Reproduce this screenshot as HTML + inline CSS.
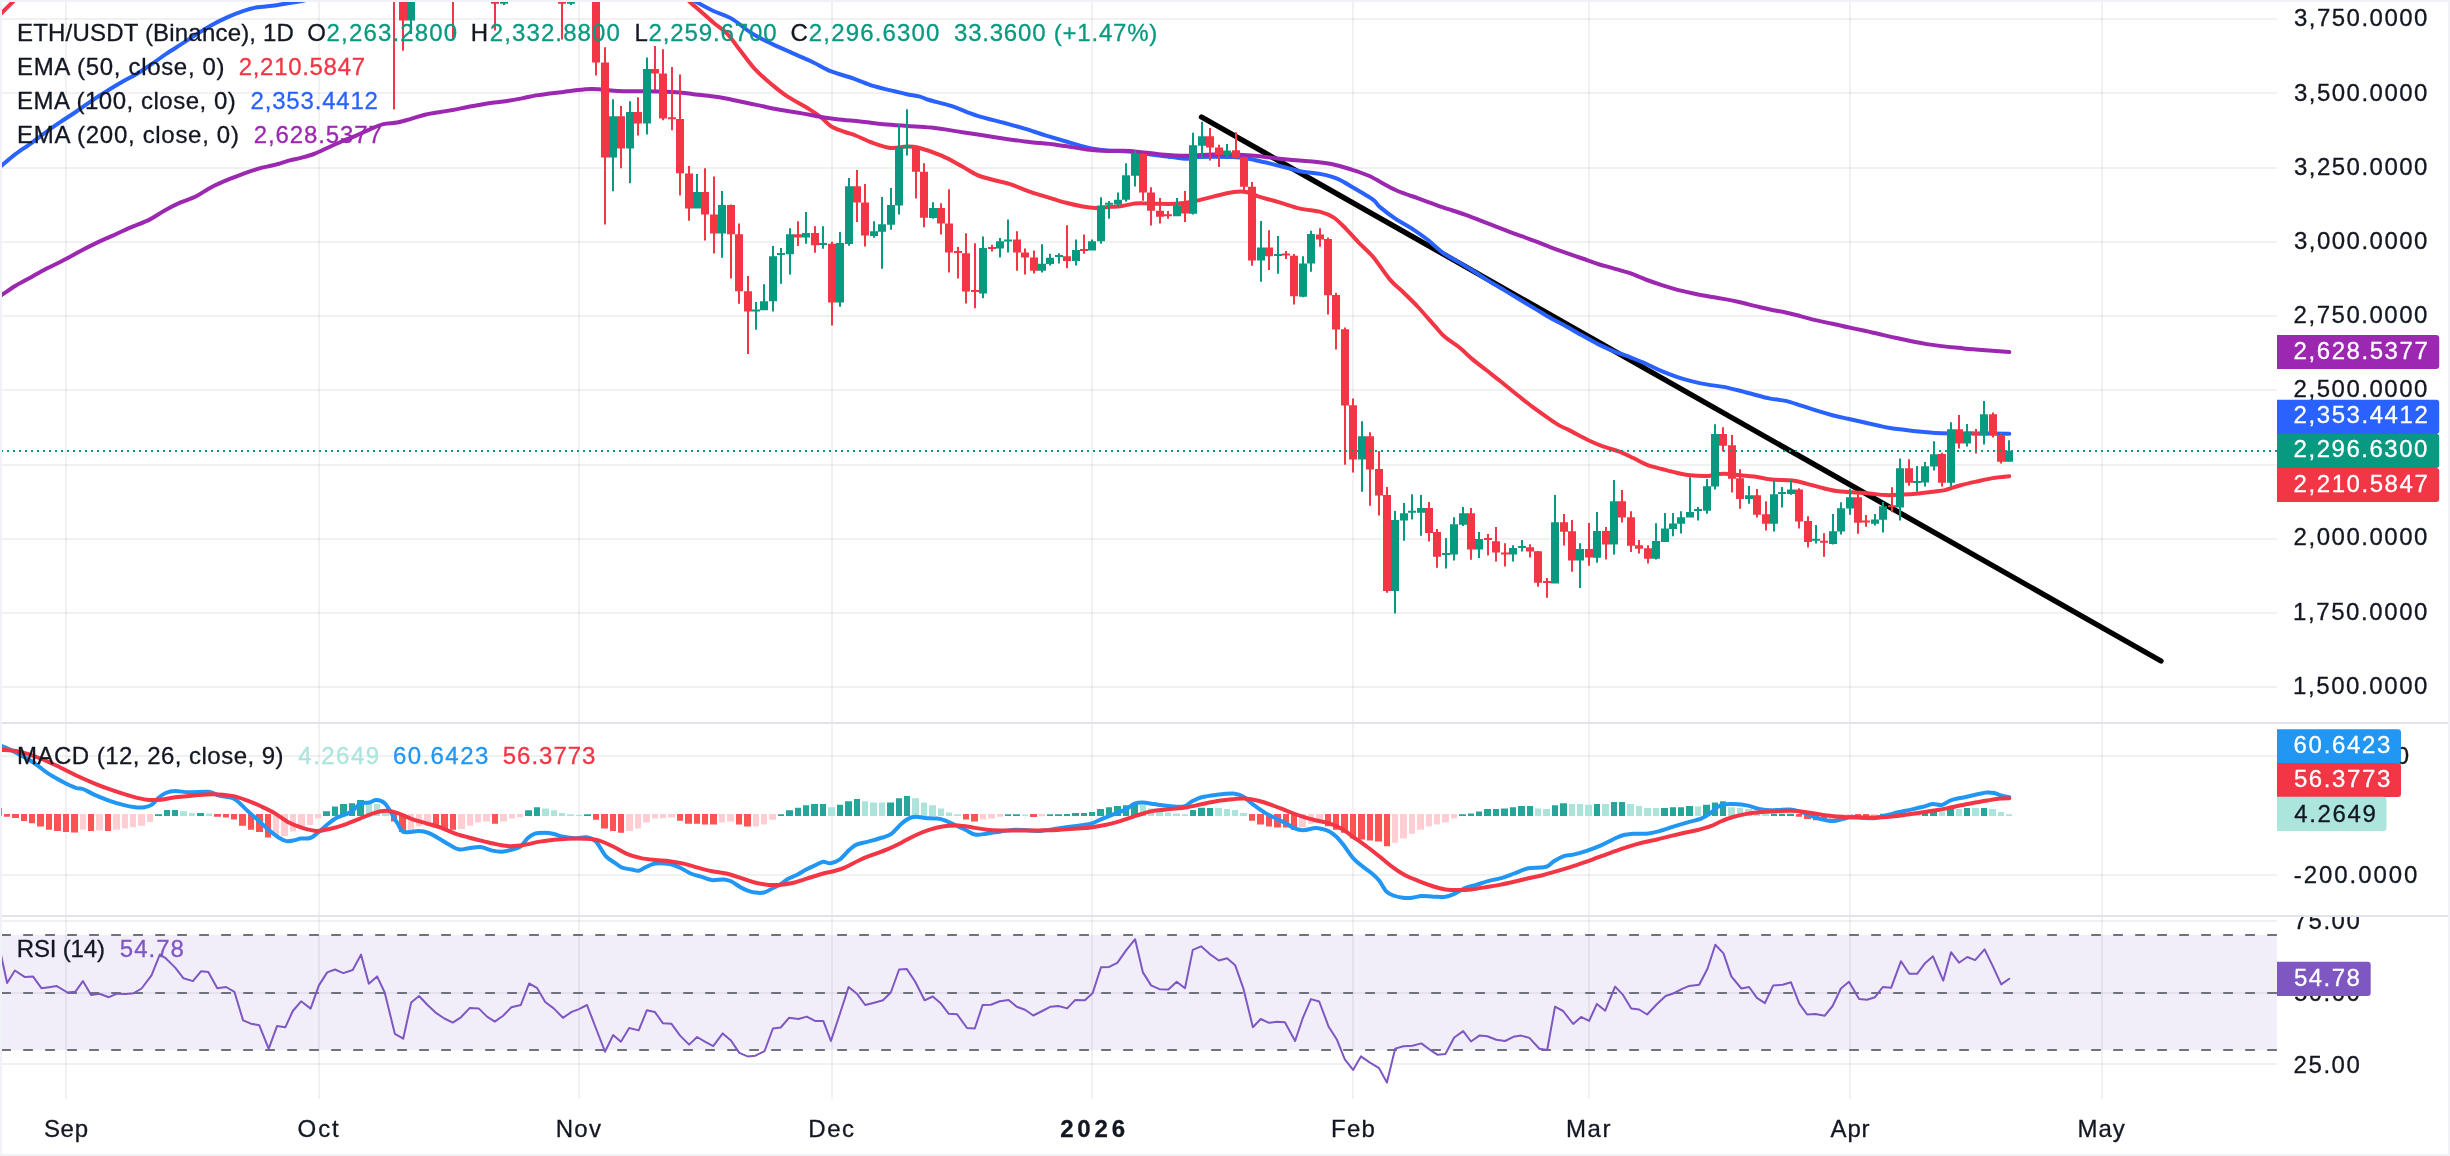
<!DOCTYPE html><html><head><meta charset="utf-8"><title>ETH/USDT</title><style>html,body{margin:0;padding:0;background:#fff}body{width:2450px;height:1156px;overflow:hidden;font-family:"Liberation Sans",sans-serif}</style></head><body><svg width="2450" height="1156" viewBox="0 0 2450 1156" style="display:block;will-change:transform">
<rect width="2450" height="1156" fill="#fff"/>
<defs>
<clipPath id="cm"><rect x="0" y="0" width="2277" height="722"/></clipPath>
<clipPath id="cd"><rect x="0" y="724" width="2277" height="191"/></clipPath>
<clipPath id="cr"><rect x="0" y="917" width="2277" height="183"/></clipPath>
<clipPath id="ca"><rect x="2277" y="917" width="173" height="183"/></clipPath>
</defs>
<rect x="0" y="935" width="2277" height="115" fill="#F2EEF9"/>
<path d="M0,19H2277M0,93H2277M0,168H2277M0,242H2277M0,316H2277M0,390H2277M0,465H2277M0,539H2277M0,613H2277M0,687H2277M0,756H2277M0,875H2277M0,921H2277M0,993H2277M0,1064H2277" stroke="#2A2E39" stroke-opacity="0.065" stroke-width="2" fill="none"/>
<path d="M66,0V1099M319,0V1099M579,0V1099M832,0V1099M1092,0V1099M1353,0V1099M1589,0V1099M1850,0V1099M2102,0V1099" stroke="#2A2E39" stroke-opacity="0.065" stroke-width="2" fill="none"/>
<g clip-path="url(#cm)">
<line x1="1201.5" y1="117" x2="2161" y2="661" stroke="#000" stroke-width="5.4" stroke-linecap="round"/>
<path d="M-3.0,18.0C-2.3,17.2 -1.4,16.2 1.3,13.4C4.0,10.6 10.5,4.2 13.4,1.3C16.4,-1.6 18.1,-3.1 19.0,-4.0" stroke="#F23645" stroke-width="4" fill="none" stroke-linecap="round" stroke-linejoin="round"/>
<path d="M685.0,-4.0C685.7,-3.1 686.8,-1.0 689.4,1.5C692.0,4.0 696.5,7.6 700.6,11.2C704.7,14.8 709.5,19.2 713.9,23.0C718.3,26.8 722.5,28.9 727.1,33.7C731.7,38.5 736.6,46.0 741.4,52.0C746.2,58.0 750.6,64.5 755.7,69.9C760.8,75.4 766.7,80.3 772.0,84.7C777.3,89.1 781.2,92.4 787.3,96.4C793.4,100.4 803.3,105.5 808.8,108.9C814.3,112.3 816.8,114.0 820.5,116.9C824.2,119.8 827.1,123.8 831.0,126.2C834.9,128.7 839.7,130.0 843.8,131.6C847.9,133.2 850.8,133.7 855.5,135.5C860.2,137.3 866.1,140.4 871.9,142.5C877.7,144.6 884.7,147.2 890.5,147.9C896.3,148.6 902.2,146.5 906.9,146.5C911.6,146.5 912.9,146.3 918.7,147.8C924.5,149.3 934.2,152.6 941.5,155.7C948.8,158.8 956.4,163.3 962.3,166.5C968.2,169.7 971.6,172.6 976.8,174.8C982.0,177.1 988.0,178.4 993.5,180.0C999.0,181.6 1004.2,182.2 1010.1,184.1C1016.0,186.0 1022.9,189.3 1028.8,191.4C1034.7,193.5 1039.2,194.7 1045.4,196.6C1051.6,198.5 1059.9,201.2 1066.1,202.8C1072.3,204.5 1077.9,205.6 1082.8,206.5C1087.7,207.4 1091.0,207.9 1095.2,208.0C1099.4,208.1 1103.2,207.3 1107.7,207.0C1112.2,206.7 1117.7,206.5 1122.2,205.9C1126.7,205.3 1131.3,203.9 1134.7,203.5C1138.1,203.1 1138.8,203.1 1142.5,203.2C1146.2,203.2 1151.5,203.7 1157.0,203.8C1162.5,203.9 1169.8,204.1 1175.7,203.8C1181.6,203.5 1186.1,203.0 1192.3,201.8C1198.5,200.6 1206.2,198.2 1213.1,196.6C1220.0,195.0 1228.3,192.8 1233.8,192.0C1239.3,191.2 1242.1,191.2 1246.3,192.0C1250.5,192.8 1253.3,194.9 1258.8,196.6C1264.3,198.3 1272.6,200.4 1279.5,202.4C1286.4,204.4 1293.4,207.0 1300.3,208.6C1307.2,210.2 1315.6,210.6 1321.1,212.1C1326.6,213.6 1329.3,214.5 1333.5,217.3C1337.7,220.1 1341.8,224.6 1346.0,228.8C1350.2,233.0 1354.0,237.6 1358.5,242.3C1363.0,247.0 1367.8,250.6 1373.0,256.8C1378.2,263.0 1384.9,273.7 1390.0,279.6C1395.1,285.6 1398.8,287.9 1403.5,292.5C1408.2,297.1 1412.8,301.5 1418.0,307.0C1423.2,312.5 1430.1,320.7 1434.6,325.7C1439.1,330.7 1440.8,333.5 1445.0,337.1C1449.2,340.7 1455.0,343.9 1459.5,347.5C1464.0,351.1 1467.5,355.1 1472.0,358.9C1476.5,362.7 1481.7,366.5 1486.5,370.3C1491.3,374.1 1495.9,377.6 1501.1,381.8C1506.3,386.0 1512.5,391.2 1517.7,395.3C1522.9,399.4 1527.4,403.1 1532.2,406.7C1537.0,410.3 1542.3,414.0 1546.8,417.1C1551.3,420.2 1555.3,423.1 1559.2,425.4C1563.1,427.6 1564.9,428.0 1570.0,430.6C1575.1,433.2 1584.4,438.3 1590.0,441.0C1595.6,443.7 1598.9,444.9 1603.8,446.7C1608.7,448.5 1614.5,449.7 1619.4,451.6C1624.3,453.5 1628.7,455.8 1633.3,458.0C1637.9,460.2 1642.2,463.0 1647.1,464.9C1652.0,466.8 1657.8,467.9 1662.7,469.2C1667.6,470.5 1671.9,471.7 1676.5,472.7C1681.1,473.7 1685.7,474.7 1690.3,475.3C1694.9,475.9 1700.7,476.1 1704.2,476.1C1707.7,476.2 1708.5,476.0 1711.1,475.6C1713.7,475.2 1716.9,474.3 1719.8,474.0C1722.7,473.7 1725.0,473.8 1728.4,474.0C1731.9,474.2 1736.2,474.9 1740.5,475.3C1744.8,475.7 1749.2,475.8 1754.4,476.5C1759.6,477.2 1765.4,479.0 1771.7,479.6C1778.0,480.2 1786.6,479.7 1792.4,480.4C1798.2,481.1 1801.7,482.4 1806.3,483.6C1810.9,484.8 1815.1,486.2 1820.1,487.4C1825.1,488.6 1830.9,490.2 1836.4,491.0C1841.9,491.8 1847.4,491.9 1852.9,492.3C1858.4,492.7 1863.8,492.9 1869.3,493.4C1874.8,493.9 1880.3,494.9 1885.8,495.1C1891.3,495.3 1896.7,494.9 1902.2,494.6C1907.7,494.3 1913.1,493.9 1918.6,493.4C1924.1,492.9 1930.7,492.1 1935.1,491.5C1939.5,490.9 1940.8,491.1 1944.9,490.1C1949.0,489.1 1954.5,486.9 1959.7,485.5C1964.9,484.1 1970.7,482.8 1976.2,481.6C1981.7,480.4 1987.1,479.0 1992.6,478.1C1998.1,477.2 2006.5,476.5 2009.3,476.2" stroke="#F23645" stroke-width="4" fill="none" stroke-linecap="round" stroke-linejoin="round"/>
<path d="M-3.0,169.5C-2.2,168.9 -1.5,168.3 1.5,165.8C4.5,163.3 10.3,158.1 15.1,154.4C19.9,150.7 25.2,147.5 30.3,143.8C35.4,140.2 40.4,136.2 45.4,132.5C50.4,128.8 55.5,125.3 60.6,121.9C65.7,118.5 70.7,115.4 75.7,112.0C80.7,108.6 85.8,104.8 90.8,101.4C95.8,98.0 101.0,94.8 106.0,91.6C111.0,88.4 116.1,85.4 121.1,82.5C126.1,79.6 131.1,77.2 136.2,74.2C141.2,71.2 146.3,67.7 151.4,64.3C156.5,60.9 161.4,57.1 166.5,53.7C171.6,50.3 176.6,47.2 181.7,43.9C186.8,40.6 191.8,37.2 196.8,34.1C201.8,31.0 206.9,27.8 211.9,25.0C216.9,22.2 222.1,19.7 227.1,17.4C232.1,15.1 237.2,13.1 242.2,11.4C247.2,9.7 252.2,8.2 257.3,7.3C262.4,6.4 267.4,6.5 272.5,5.8C277.6,5.1 282.6,4.1 287.6,3.3C292.7,2.5 297.1,1.9 302.8,0.8C308.5,-0.2 318.8,-2.4 322.0,-3.0" stroke="#2962FF" stroke-width="4" fill="none" stroke-linecap="round" stroke-linejoin="round"/>
<path d="M688.0,-3.0C689.2,-2.2 691.4,-0.8 695.5,1.5C699.6,3.8 706.9,7.9 712.9,10.7C718.9,13.5 724.8,14.6 731.2,18.4C737.7,22.1 744.8,29.0 751.6,33.2C758.4,37.5 765.2,40.6 772.0,43.9C778.8,47.2 785.6,50.0 792.4,53.1C799.2,56.2 806.4,59.2 812.9,62.2C819.4,65.2 824.4,68.7 831.2,71.4C838.0,74.1 846.6,76.1 853.7,78.6C860.9,81.1 867.3,84.1 874.1,86.2C880.9,88.3 889.0,90.0 894.5,91.3C900.0,92.6 902.6,93.3 906.9,94.2C911.1,95.1 916.3,95.6 920.0,96.6C923.7,97.6 923.8,98.4 929.1,100.0C934.4,101.6 944.0,103.6 951.9,106.2C959.8,108.8 968.1,112.8 976.8,115.6C985.4,118.4 995.8,120.6 1003.8,122.8C1011.8,125.0 1017.7,126.6 1024.6,128.7C1031.5,130.8 1038.5,133.2 1045.4,135.3C1052.3,137.4 1059.2,139.5 1066.1,141.5C1073.0,143.5 1080.0,145.9 1086.9,147.4C1093.8,148.9 1100.8,149.8 1107.7,150.5C1114.6,151.2 1121.3,150.8 1128.5,151.5C1135.7,152.2 1143.6,153.5 1150.8,154.4C1158.0,155.3 1165.6,156.4 1171.5,157.1C1177.4,157.8 1181.6,158.8 1186.1,158.8C1190.6,158.8 1194.0,157.4 1198.5,157.1C1203.0,156.8 1207.2,156.7 1213.1,156.7C1219.0,156.7 1228.3,156.8 1233.8,157.1C1239.3,157.3 1241.1,157.3 1246.3,158.2C1251.5,159.1 1258.4,160.8 1265.0,162.3C1271.6,163.9 1279.6,165.9 1285.8,167.5C1292.0,169.1 1296.5,170.6 1302.4,171.7C1308.3,172.8 1315.2,172.9 1321.1,174.1C1327.0,175.3 1332.2,176.5 1337.7,178.9C1343.2,181.3 1348.4,184.8 1354.3,188.3C1360.2,191.8 1368.7,196.6 1373.0,199.7C1377.3,202.8 1376.2,203.9 1380.0,207.1C1383.8,210.3 1390.4,215.3 1395.6,218.8C1400.8,222.3 1405.9,224.7 1411.1,228.1C1416.3,231.5 1421.5,235.0 1426.7,239.0C1431.9,243.0 1437.1,248.5 1442.3,252.3C1447.5,256.1 1452.6,258.5 1457.8,261.6C1463.0,264.7 1468.2,267.8 1473.4,271.0C1478.6,274.2 1483.8,277.9 1489.0,281.1C1494.2,284.3 1499.4,287.3 1504.6,290.4C1509.8,293.5 1514.9,296.7 1520.1,299.8C1525.3,302.9 1530.5,306.0 1535.7,309.1C1540.9,312.2 1546.1,315.5 1551.3,318.4C1556.5,321.3 1561.6,323.8 1566.8,326.7C1572.0,329.6 1577.2,332.7 1582.4,335.6C1587.6,338.5 1592.8,341.5 1598.0,344.1C1603.2,346.7 1608.2,348.9 1613.5,351.1C1618.8,353.3 1624.7,355.1 1630.0,357.2C1635.3,359.3 1640.4,361.2 1645.6,363.5C1650.8,365.8 1655.9,368.7 1661.1,370.9C1666.3,373.1 1671.5,375.1 1676.7,376.8C1681.9,378.6 1687.1,380.1 1692.3,381.4C1697.5,382.7 1702.6,383.7 1707.8,384.6C1713.0,385.5 1718.2,385.9 1723.4,386.9C1728.6,387.9 1733.8,389.2 1739.0,390.5C1744.2,391.8 1749.4,393.3 1754.6,394.7C1759.8,396.1 1764.9,397.6 1770.1,398.6C1775.3,399.6 1780.5,399.7 1785.7,400.9C1790.9,402.1 1796.1,404.0 1801.3,405.6C1806.5,407.2 1811.6,409.1 1816.8,410.7C1822.0,412.3 1827.2,413.8 1832.4,415.2C1837.6,416.6 1842.8,417.6 1848.0,418.8C1853.2,420.0 1858.3,421.0 1863.5,422.2C1868.7,423.4 1874.7,424.8 1879.1,425.8C1883.5,426.8 1886.2,427.5 1890.0,428.1C1893.8,428.7 1897.4,429.0 1902.2,429.6C1907.0,430.2 1913.1,430.9 1918.6,431.5C1924.1,432.1 1929.6,432.6 1935.1,432.9C1940.6,433.2 1944.8,433.3 1951.5,433.4C1958.2,433.5 1965.6,433.3 1975.2,433.4C1984.8,433.5 2003.6,433.7 2009.3,433.8" stroke="#2962FF" stroke-width="4" fill="none" stroke-linecap="round" stroke-linejoin="round"/>
<path d="M-3.0,297.8C-2.2,297.4 -1.5,297.1 1.6,295.1C4.7,293.1 10.7,288.8 15.6,285.8C20.5,282.8 26.0,280.1 31.2,277.2C36.4,274.3 41.0,271.6 46.7,268.6C52.4,265.6 59.7,262.3 65.4,259.3C71.1,256.3 75.8,253.4 81.0,250.7C86.2,248.0 91.4,245.4 96.6,242.9C101.8,240.4 106.4,238.5 112.1,235.9C117.8,233.3 124.6,230.1 130.8,227.4C137.0,224.7 143.8,222.5 149.5,219.6C155.2,216.7 159.9,213.1 165.1,210.2C170.3,207.3 175.5,204.7 180.7,202.4C185.9,200.1 191.1,198.8 196.3,196.2C201.5,193.6 206.6,189.6 211.8,186.9C217.0,184.2 222.2,182.0 227.4,179.8C232.6,177.6 237.8,175.8 243.0,173.9C248.2,172.0 253.4,170.1 258.6,168.6C263.8,167.1 268.9,166.4 274.1,165.0C279.3,163.6 285.4,161.6 289.7,160.4C294.0,159.2 296.0,159.2 300.0,158.1C304.0,157.0 309.3,155.7 313.9,154.0C318.5,152.3 323.2,149.8 327.8,147.7C332.4,145.6 337.0,143.5 341.6,141.5C346.2,139.5 350.9,137.9 355.5,135.9C360.1,133.9 364.8,131.7 369.4,129.7C374.0,127.7 378.7,125.3 383.3,124.1C387.9,122.9 392.5,123.4 397.1,122.5C401.7,121.6 406.4,120.1 411.0,118.8C415.6,117.5 420.3,115.8 424.9,114.7C429.5,113.6 434.2,113.1 438.8,112.3C443.4,111.5 448.1,110.8 452.7,110.0C457.3,109.2 461.9,108.1 466.5,107.2C471.1,106.3 475.8,105.5 480.4,104.7C485.0,103.9 489.7,103.2 494.3,102.6C498.9,101.9 503.6,101.5 508.2,100.8C512.8,100.1 517.4,99.3 522.0,98.4C526.6,97.5 531.3,96.2 535.9,95.4C540.5,94.6 545.2,94.2 549.8,93.6C554.4,93.0 559.1,92.5 563.7,91.9C568.3,91.3 572.9,90.6 577.5,90.1C582.1,89.6 587.5,89.1 591.4,89.0C595.3,88.9 596.5,89.1 601.1,89.4C605.7,89.8 613.7,90.8 619.2,91.1C624.7,91.4 627.7,91.2 634.2,91.3C640.8,91.4 650.9,91.3 658.5,91.5C666.1,91.7 673.8,91.9 680.0,92.4C686.2,92.9 690.8,93.8 695.5,94.4C700.2,95.0 703.3,95.1 708.4,95.8C713.5,96.5 718.3,97.0 726.1,98.5C733.9,100.0 746.4,102.8 755.1,104.6C763.8,106.4 770.6,108.0 778.4,109.5C786.2,111.0 794.8,112.2 801.8,113.4C808.8,114.6 814.7,115.9 820.5,116.9C826.3,117.9 830.2,118.4 836.8,119.2C843.4,120.0 852.4,120.7 860.2,121.5C868.0,122.3 875.7,123.6 883.5,124.3C891.3,125.0 898.9,125.4 906.9,125.9C914.9,126.5 922.0,126.5 931.2,127.6C940.4,128.6 951.9,130.6 962.3,132.2C972.7,133.8 983.1,135.4 993.5,137.0C1003.9,138.6 1014.2,140.2 1024.6,141.5C1035.0,142.8 1045.4,143.4 1055.8,144.7C1066.2,146.0 1078.2,148.4 1086.9,149.4C1095.6,150.4 1100.5,150.7 1107.7,150.9C1114.9,151.2 1121.1,150.3 1130.0,150.9C1138.9,151.5 1151.9,153.6 1161.2,154.4C1170.5,155.2 1177.4,155.7 1186.1,155.7C1194.8,155.7 1205.1,154.6 1213.1,154.4C1221.0,154.2 1226.9,154.2 1233.8,154.4C1240.7,154.6 1247.7,155.1 1254.6,155.7C1261.5,156.3 1268.5,157.4 1275.4,158.2C1282.3,158.9 1289.2,159.6 1296.1,160.2C1303.0,160.8 1311.0,161.3 1316.9,161.9C1322.8,162.5 1326.3,162.9 1331.5,164.0C1336.7,165.1 1341.9,166.5 1348.1,168.5C1354.3,170.5 1360.9,172.2 1368.8,175.8C1376.7,179.4 1387.2,186.2 1395.6,190.0C1403.9,193.8 1411.1,195.8 1418.9,198.6C1426.7,201.4 1434.5,204.4 1442.3,207.1C1450.1,209.8 1457.8,212.1 1465.6,214.9C1473.4,217.7 1481.2,220.9 1489.0,223.9C1496.8,226.9 1504.5,229.9 1512.3,232.8C1520.1,235.7 1529.2,238.9 1535.7,241.4C1542.2,243.9 1546.1,245.7 1551.3,247.6C1556.5,249.5 1561.6,251.3 1566.8,253.1C1572.0,254.9 1577.2,256.7 1582.4,258.5C1587.6,260.3 1592.8,262.4 1598.0,264.0C1603.2,265.6 1608.2,266.8 1613.5,268.3C1618.8,269.8 1624.7,271.3 1630.0,273.2C1635.3,275.1 1640.4,277.6 1645.6,279.5C1650.8,281.4 1655.9,283.2 1661.1,284.9C1666.3,286.6 1671.5,288.2 1676.7,289.6C1681.9,291.0 1687.1,292.1 1692.3,293.2C1697.5,294.3 1702.6,295.4 1707.8,296.3C1713.0,297.2 1718.2,297.9 1723.4,298.9C1728.6,299.8 1733.8,300.8 1739.0,302.0C1744.2,303.2 1749.4,304.6 1754.6,305.9C1759.8,307.1 1764.9,308.4 1770.1,309.5C1775.3,310.6 1780.5,311.4 1785.7,312.5C1790.9,313.6 1796.1,315.1 1801.3,316.4C1806.5,317.7 1811.6,319.2 1816.8,320.4C1822.0,321.6 1827.2,322.6 1832.4,323.8C1837.6,325.0 1842.8,326.2 1848.0,327.3C1853.2,328.4 1858.3,329.4 1863.5,330.5C1868.7,331.6 1874.7,333.0 1879.1,334.0C1883.5,335.0 1882.1,334.9 1890.0,336.6C1897.9,338.3 1914.4,342.1 1926.7,344.1C1939.0,346.1 1952.9,347.3 1963.8,348.4C1974.7,349.5 1984.7,350.1 1992.3,350.7C1999.9,351.3 2006.5,351.9 2009.3,352.1" stroke="#9C27B0" stroke-width="4" fill="none" stroke-linecap="round" stroke-linejoin="round"/>
<path d="M393,-100.0h2V109.4h-2zM402,-20.0h2V50.8h-2zM452,-100.0h2V40.0h-2zM494,-50.0h2V30.5h-2zM561,-50.0h2V39.5h-2zM595,-50.0h2V75.5h-2zM604,47.2h2V224.5h-2zM620,106.0h2V168.3h-2zM637,97.3h2V135.6h-2zM654,46.0h2V90.0h-2zM662,49.2h2V120.3h-2zM671,67.0h2V130.3h-2zM679,74.6h2V195.6h-2zM688,165.9h2V220.8h-2zM704,168.2h2V240.6h-2zM713,176.4h2V253.5h-2zM730,204.5h2V278.5h-2zM738,223.6h2V303.7h-2zM747,276.1h2V353.9h-2zM797,221.2h2V246.0h-2zM814,226.2h2V252.8h-2zM831,241.8h2V325.4h-2zM856,170.1h2V222.0h-2zM864,183.9h2V246.5h-2zM915,145.5h2V198.6h-2zM923,163.2h2V227.3h-2zM940,203.2h2V234.6h-2zM948,189.3h2V272.4h-2zM957,247.0h2V278.6h-2zM965,233.3h2V303.5h-2zM974,243.3h2V308.3h-2zM991,244.8h2V251.6h-2zM1016,231.3h2V270.7h-2zM1024,248.5h2V274.5h-2zM1033,250.6h2V273.4h-2zM1066,225.2h2V268.2h-2zM1083,234.4h2V253.7h-2zM1142,153.5h2V200.7h-2zM1150,187.2h2V225.6h-2zM1159,198.0h2V223.6h-2zM1167,211.1h2V218.8h-2zM1184,191.0h2V221.9h-2zM1209,128.0h2V160.6h-2zM1218,144.7h2V166.9h-2zM1235,132.2h2V158.8h-2zM1243,157.1h2V191.4h-2zM1251,182.0h2V265.7h-2zM1268,230.2h2V269.9h-2zM1285,251.0h2V258.9h-2zM1293,254.1h2V304.6h-2zM1319,228.3h2V246.8h-2zM1327,237.5h2V314.4h-2zM1335,292.8h2V349.6h-2zM1344,327.4h2V464.8h-2zM1352,398.4h2V472.6h-2zM1369,432.2h2V505.7h-2zM1378,450.9h2V515.6h-2zM1386,487.1h2V592.8h-2zM1428,501.9h2V541.6h-2zM1436,529.1h2V567.7h-2zM1470,508.0h2V559.7h-2zM1487,533.9h2V555.6h-2zM1495,527.0h2V561.6h-2zM1504,543.3h2V566.6h-2zM1529,544.2h2V557.6h-2zM1537,551.0h2V586.7h-2zM1546,577.9h2V597.8h-2zM1563,514.0h2V545.5h-2zM1571,519.9h2V571.8h-2zM1588,523.0h2V565.8h-2zM1605,526.9h2V559.6h-2zM1621,490.0h2V522.5h-2zM1630,511.2h2V551.9h-2zM1638,540.1h2V553.5h-2zM1647,545.3h2V563.5h-2zM1722,427.2h2V451.6h-2zM1731,435.1h2V492.6h-2zM1739,469.2h2V508.7h-2zM1756,489.1h2V517.6h-2zM1765,501.2h2V530.6h-2zM1798,488.2h2V528.5h-2zM1807,516.3h2V547.6h-2zM1823,533.2h2V556.7h-2zM1857,494.3h2V533.7h-2zM1865,515.1h2V526.8h-2zM1891,487.2h2V512.3h-2zM1908,459.2h2V485.7h-2zM1941,452.8h2V486.5h-2zM1958,415.0h2V448.6h-2zM1975,429.0h2V453.6h-2zM1992,412.4h2V437.5h-2zM2000,433.1h2V463.5h-2zM390,-100.0h8V-5.0h-8zM399,-20.0h8V20.6h-8zM449,-100.0h8V-5.0h-8zM491,-50.0h8V3.8h-8zM558,-50.0h8V3.8h-8zM592,-50.0h8V62.5h-8zM601,62.5h8V157.4h-8zM617,116.2h8V148.4h-8zM634,111.9h8V123.5h-8zM651,69.0h8V73.4h-8zM659,73.4h8V118.6h-8zM668,117.2h8V119.2h-8zM676,119.0h8V173.3h-8zM685,173.4h8V208.6h-8zM701,192.0h8V214.5h-8zM710,214.5h8V233.6h-8zM727,204.9h8V234.3h-8zM735,234.3h8V291.3h-8zM744,291.3h8V311.4h-8zM794,234.3h8V237.6h-8zM811,232.9h8V245.3h-8zM828,243.7h8V302.5h-8zM853,186.2h8V202.6h-8zM861,202.6h8V235.5h-8zM912,146.0h8V171.7h-8zM920,171.7h8V217.8h-8zM937,208.0h8V223.6h-8zM945,223.6h8V252.6h-8zM954,251.0h8V253.0h-8zM962,253.3h8V291.5h-8zM971,289.9h8V291.9h-8zM988,247.0h8V249.1h-8zM1013,239.6h8V252.6h-8zM1021,252.6h8V257.4h-8zM1030,257.4h8V270.7h-8zM1063,256.2h8V261.0h-8zM1080,248.9h8V250.9h-8zM1139,154.0h8V192.4h-8zM1147,192.4h8V210.7h-8zM1156,210.7h8V216.7h-8zM1164,214.2h8V216.2h-8zM1181,203.8h8V213.6h-8zM1206,136.3h8V147.4h-8zM1215,147.4h8V155.0h-8zM1232,150.3h8V157.8h-8zM1240,157.1h8V186.8h-8zM1248,186.8h8V260.5h-8zM1265,247.5h8V256.2h-8zM1282,253.6h8V255.6h-8zM1290,255.8h8V296.3h-8zM1316,234.6h8V239.6h-8zM1324,239.1h8V295.3h-8zM1332,295.0h8V329.6h-8zM1341,329.2h8V405.6h-8zM1349,405.2h8V459.6h-8zM1366,436.2h8V469.4h-8zM1375,469.0h8V495.6h-8zM1383,495.0h8V590.9h-8zM1425,508.0h8V532.9h-8zM1433,532.0h8V556.8h-8zM1467,513.2h8V549.5h-8zM1484,538.0h8V540.0h-8zM1492,541.2h8V552.5h-8zM1501,552.5h8V554.5h-8zM1526,547.3h8V551.6h-8zM1534,551.2h8V582.7h-8zM1543,580.9h8V582.9h-8zM1560,522.2h8V531.7h-8zM1568,531.2h8V560.6h-8zM1585,549.0h8V557.6h-8zM1602,531.1h8V544.6h-8zM1618,501.2h8V517.6h-8zM1627,517.3h8V545.8h-8zM1635,545.3h8V548.8h-8zM1644,548.3h8V558.7h-8zM1719,434.1h8V445.8h-8zM1728,445.3h8V478.7h-8zM1736,478.2h8V499.0h-8zM1753,495.2h8V514.7h-8zM1762,514.2h8V523.7h-8zM1795,489.4h8V521.6h-8zM1804,521.1h8V541.9h-8zM1820,540.8h8V542.8h-8zM1854,497.2h8V522.7h-8zM1862,520.5h8V522.5h-8zM1888,505.2h8V507.2h-8zM1905,468.3h8V482.7h-8zM1938,454.0h8V482.7h-8zM1955,429.3h8V443.6h-8zM1972,432.3h8V435.4h-8zM1989,414.2h8V435.4h-8zM1997,435.1h8V461.7h-8z" fill="#F23645"/>
<path d="M410,-100.0h2V34.1h-2zM503,-50.0h2V4.9h-2zM570,-50.0h2V4.9h-2zM612,99.3h2V191.3h-2zM629,101.2h2V183.3h-2zM646,57.4h2V134.4h-2zM696,174.1h2V208.6h-2zM721,191.1h2V257.7h-2zM755,302.0h2V329.8h-2zM763,284.3h2V310.2h-2zM772,246.0h2V311.4h-2zM780,248.1h2V283.8h-2zM789,228.3h2V274.5h-2zM805,211.9h2V243.7h-2zM822,226.2h2V248.8h-2zM839,232.0h2V306.7h-2zM848,178.0h2V245.8h-2zM873,221.2h2V237.8h-2zM881,197.0h2V268.7h-2zM890,188.1h2V229.7h-2zM898,124.3h2V214.5h-2zM906,109.2h2V155.5h-2zM932,202.2h2V218.8h-2zM982,236.4h2V298.3h-2zM999,238.1h2V257.4h-2zM1007,219.4h2V252.6h-2zM1041,244.3h2V272.4h-2zM1049,253.7h2V265.5h-2zM1058,253.3h2V263.4h-2zM1075,239.6h2V265.5h-2zM1091,239.6h2V250.6h-2zM1100,197.2h2V243.7h-2zM1108,201.1h2V218.8h-2zM1117,192.4h2V206.5h-2zM1125,163.3h2V201.8h-2zM1134,150.5h2V186.6h-2zM1176,198.0h2V216.3h-2zM1192,132.8h2V214.6h-2zM1201,121.8h2V158.8h-2zM1226,144.0h2V157.7h-2zM1260,221.1h2V281.7h-2zM1277,236.0h2V273.8h-2zM1302,256.2h2V297.3h-2zM1310,230.8h2V271.8h-2zM1361,421.2h2V491.7h-2zM1394,510.9h2V613.5h-2zM1403,503.1h2V540.7h-2zM1411,494.2h2V519.6h-2zM1420,495.0h2V535.7h-2zM1445,538.1h2V568.5h-2zM1453,517.3h2V560.6h-2zM1462,507.1h2V526.0h-2zM1478,532.0h2V558.0h-2zM1512,545.2h2V561.6h-2zM1521,540.0h2V551.6h-2zM1554,495.0h2V583.6h-2zM1579,543.3h2V587.9h-2zM1596,512.1h2V562.7h-2zM1613,480.1h2V554.5h-2zM1655,523.2h2V559.5h-2zM1664,513.0h2V541.9h-2zM1672,513.0h2V536.3h-2zM1680,511.2h2V533.6h-2zM1689,477.3h2V517.6h-2zM1697,506.9h2V520.6h-2zM1706,479.1h2V513.7h-2zM1714,424.2h2V489.6h-2zM1748,486.0h2V503.8h-2zM1773,480.4h2V531.5h-2zM1781,487.0h2V507.6h-2zM1790,480.1h2V494.8h-2zM1815,525.1h2V543.6h-2zM1832,514.1h2V544.6h-2zM1840,502.2h2V534.5h-2zM1849,488.8h2V514.8h-2zM1874,514.0h2V525.5h-2zM1882,502.1h2V532.6h-2zM1899,458.4h2V520.6h-2zM1916,466.0h2V491.8h-2zM1924,461.9h2V486.5h-2zM1933,441.2h2V470.4h-2zM1950,422.2h2V486.5h-2zM1966,424.1h2V446.6h-2zM1983,401.0h2V444.6h-2zM2008,440.3h2V461.7h-2zM407,-100.0h8V20.6h-8zM500,-50.0h8V3.8h-8zM567,-50.0h8V3.8h-8zM609,116.2h8V157.4h-8zM626,111.9h8V148.4h-8zM643,69.0h8V123.5h-8zM693,192.0h8V208.6h-8zM718,204.9h8V233.6h-8zM752,309.4h8V311.4h-8zM760,301.3h8V310.2h-8zM769,256.3h8V301.3h-8zM777,252.9h8V254.9h-8zM786,234.3h8V254.2h-8zM802,232.9h8V237.6h-8zM819,242.9h8V244.9h-8zM836,243.0h8V302.5h-8zM845,186.2h8V244.1h-8zM870,231.3h8V236.0h-8zM878,224.3h8V231.8h-8zM887,205.1h8V224.8h-8zM895,146.7h8V205.6h-8zM903,145.1h8V147.1h-8zM929,208.0h8V218.0h-8zM979,248.1h8V293.6h-8zM996,241.2h8V248.5h-8zM1004,239.6h8V241.6h-8zM1038,263.7h8V270.7h-8zM1046,257.8h8V264.1h-8zM1055,255.1h8V257.1h-8zM1072,250.0h8V261.0h-8zM1088,241.2h8V250.6h-8zM1097,205.5h8V241.2h-8zM1105,202.7h8V204.7h-8zM1114,199.7h8V204.5h-8zM1122,175.2h8V199.7h-8zM1131,153.6h8V175.8h-8zM1173,205.3h8V216.3h-8zM1189,145.3h8V213.8h-8zM1198,136.3h8V145.7h-8zM1223,150.5h8V155.0h-8zM1257,247.5h8V260.5h-8zM1274,254.0h8V256.0h-8zM1299,263.4h8V296.7h-8zM1307,234.0h8V263.4h-8zM1358,436.2h8V459.6h-8zM1391,519.9h8V590.9h-8zM1400,513.2h8V520.4h-8zM1408,510.7h8V512.7h-8zM1417,508.0h8V512.7h-8zM1442,552.9h8V554.9h-8zM1450,524.3h8V554.5h-8zM1459,513.2h8V524.8h-8zM1475,539.1h8V549.5h-8zM1509,548.1h8V554.5h-8zM1518,546.0h8V548.0h-8zM1551,522.2h8V583.6h-8zM1576,549.0h8V560.6h-8zM1593,531.1h8V557.7h-8zM1610,501.2h8V544.5h-8zM1652,541.0h8V558.7h-8zM1661,528.4h8V541.9h-8zM1669,523.4h8V528.9h-8zM1677,517.3h8V523.7h-8zM1686,512.1h8V517.6h-8zM1694,508.9h8V510.9h-8zM1703,486.2h8V510.7h-8zM1711,434.1h8V486.5h-8zM1745,495.2h8V499.0h-8zM1770,494.3h8V523.7h-8zM1778,492.1h8V494.1h-8zM1787,489.4h8V493.9h-8zM1812,538.8h8V540.8h-8zM1829,531.3h8V543.9h-8zM1837,508.2h8V531.5h-8zM1846,497.2h8V508.6h-8zM1871,519.4h8V523.8h-8zM1879,506.3h8V519.7h-8zM1896,468.3h8V507.4h-8zM1913,481.1h8V483.1h-8zM1921,466.3h8V482.4h-8zM1930,454.3h8V466.6h-8zM1947,429.3h8V482.7h-8zM1963,432.3h8V443.6h-8zM1980,414.2h8V435.6h-8zM2005,450.7h8V461.7h-8z" fill="#089981"/>
<line x1="1" y1="451" x2="2277" y2="451" stroke="#089981" stroke-width="2" stroke-dasharray="2 4"/>
</g>
<g clip-path="url(#cd)">
<path d="M-5,810.8h7V816h-7zM180,811.2h7V816h-7zM189,813.1h6V816h-6zM206,813.6h6V816h-6zM366,803.7h6V816h-6zM374,804.1h6V816h-6zM382,810.8h7V816h-7zM542,808.4h7V816h-7zM551,810.3h6V816h-6zM559,813.1h6V816h-6zM567,814.3h7V816h-7zM576,814.8h6V816h-6zM828,807.2h7V816h-7zM862,801.3h6V816h-6zM870,802.5h7V816h-7zM879,802.5h6V816h-6zM912,798.2h7V816h-7zM921,802.5h6V816h-6zM929,805.3h7V816h-7zM938,808.4h6V816h-6zM946,812.4h6V816h-6zM954,814.3h7V816h-7zM1022,814.6h6V816h-6zM1140,804.8h6V816h-6zM1148,808.4h6V816h-6zM1156,811.5h7V816h-7zM1165,812.4h6V816h-6zM1173,813.6h7V816h-7zM1182,814.3h6V816h-6zM1215,807.9h7V816h-7zM1224,809.1h6V816h-6zM1232,810.1h6V816h-6zM1240,813.1h7V816h-7zM1535,808.4h6V816h-6zM1543,809.1h7V816h-7zM1569,804.1h6V816h-6zM1577,804.1h6V816h-6zM1585,804.8h7V816h-7zM1602,804.1h7V816h-7zM1627,804.1h7V816h-7zM1636,806.0h6V816h-6zM1644,807.9h7V816h-7zM1653,807.9h6V816h-6zM1695,806.5h6V816h-6zM1728,807.2h7V816h-7zM1737,807.7h6V816h-6zM1745,809.1h7V816h-7zM1754,811.9h6V816h-6zM1762,813.6h7V816h-7zM1888,814.3h7V816h-7zM1905,812.4h7V816h-7zM1914,813.1h6V816h-6zM1939,811.5h6V816h-6zM1956,809.1h6V816h-6zM1972,807.9h7V816h-7zM1989,809.1h7V816h-7zM1998,811.9h6V816h-6zM2006,814.3h6V816h-6z" fill="#ACE3DA"/>
<path d="M155,814.3h7V816h-7zM164,810.1h6V816h-6zM172,810.1h6V816h-6zM197,813.1h7V816h-7zM323,811.2h7V816h-7zM332,806.5h6V816h-6zM340,804.1h7V816h-7zM349,803.2h6V816h-6zM357,800.1h7V816h-7zM525,810.3h7V816h-7zM534,807.2h6V816h-6zM584,814.3h7V816h-7zM778,814.3h6V816h-6zM786,810.3h7V816h-7zM795,807.7h6V816h-6zM803,805.3h6V816h-6zM811,804.1h7V816h-7zM820,804.1h6V816h-6zM837,804.8h6V816h-6zM845,801.3h7V816h-7zM854,798.9h6V816h-6zM887,802.5h7V816h-7zM896,798.2h6V816h-6zM904,796.1h6V816h-6zM1005,814.3h6V816h-6zM1013,814.3h7V816h-7zM1047,814.3h6V816h-6zM1055,814.3h7V816h-7zM1064,814.1h6V816h-6zM1072,813.1h7V816h-7zM1081,813.1h6V816h-6zM1089,811.9h6V816h-6zM1097,809.1h7V816h-7zM1106,807.2h6V816h-6zM1114,806.0h7V816h-7zM1123,805.3h6V816h-6zM1131,803.7h7V816h-7zM1190,810.1h6V816h-6zM1198,807.7h7V816h-7zM1207,807.9h6V816h-6zM1459,814.3h7V816h-7zM1468,813.4h6V816h-6zM1476,811.5h6V816h-6zM1484,809.1h7V816h-7zM1493,809.1h6V816h-6zM1501,808.4h7V816h-7zM1510,807.2h6V816h-6zM1518,806.0h7V816h-7zM1527,806.0h6V816h-6zM1552,805.3h6V816h-6zM1560,803.2h7V816h-7zM1594,804.1h6V816h-6zM1611,802.0h6V816h-6zM1619,802.0h6V816h-6zM1661,807.9h7V816h-7zM1670,807.2h6V816h-6zM1678,807.2h6V816h-6zM1686,806.0h7V816h-7zM1703,804.8h7V816h-7zM1712,802.5h6V816h-6zM1720,801.3h6V816h-6zM1771,813.8h6V816h-6zM1779,813.8h6V816h-6zM1787,813.8h7V816h-7zM1880,813.8h6V816h-6zM1897,811.5h6V816h-6zM1922,811.9h6V816h-6zM1930,810.8h7V816h-7zM1947,809.1h7V816h-7zM1964,807.9h6V816h-6zM1981,807.9h6V816h-6z" fill="#26A69A"/>
<path d="M80,814h6V829.7h-6zM96,814h7V830.4h-7zM113,814h7V829.7h-7zM122,814h6V828.5h-6zM130,814h6V827.3h-6zM138,814h7V825.7h-7zM147,814h6V821.9h-6zM273,814h6V835.6h-6zM281,814h7V836.1h-7zM290,814h6V831.4h-6zM298,814h7V828.5h-7zM307,814h6V825.0h-6zM315,814h6V818.6h-6zM408,814h6V830.4h-6zM416,814h6V826.2h-6zM424,814h7V824.3h-7zM458,814h7V829.0h-7zM467,814h6V825.7h-6zM475,814h6V822.6h-6zM483,814h7V821.4h-7zM500,814h7V821.4h-7zM509,814h6V818.6h-6zM517,814h6V817.2h-6zM626,814h7V830.9h-7zM635,814h6V828.5h-6zM643,814h7V822.6h-7zM652,814h6V818.6h-6zM660,814h6V818.3h-6zM668,814h7V817.4h-7zM719,814h6V822.6h-6zM727,814h7V821.4h-7zM753,814h6V826.6h-6zM761,814h6V824.5h-6zM769,814h7V819.8h-7zM980,814h6V819.5h-6zM988,814h7V818.6h-7zM997,814h6V816.7h-6zM1039,814h6V816.2h-6zM1299,814h7V827.3h-7zM1308,814h6V823.8h-6zM1316,814h7V822.6h-7zM1392,814h6V842.7h-6zM1400,814h7V838.5h-7zM1409,814h6V833.7h-6zM1417,814h7V829.7h-7zM1426,814h6V826.6h-6zM1434,814h6V824.5h-6zM1442,814h7V822.6h-7zM1451,814h6V818.6h-6zM1829,814h7V820.2h-7zM1838,814h6V817.9h-6zM1846,814h7V816.2h-7zM1871,814h7V816.2h-7z" fill="#FFCDD2"/>
<path d="M4,814h6V816.7h-6zM12,814h7V817.9h-7zM21,814h6V820.9h-6zM29,814h6V823.3h-6zM37,814h7V826.6h-7zM46,814h6V829.7h-6zM54,814h7V830.9h-7zM63,814h6V832.1h-6zM71,814h7V832.5h-7zM88,814h6V830.9h-6zM105,814h6V830.9h-6zM214,814h7V816.7h-7zM223,814h6V817.4h-6zM231,814h6V819.5h-6zM239,814h7V825.7h-7zM248,814h6V829.7h-6zM256,814h7V832.1h-7zM265,814h6V837.5h-6zM391,814h6V821.4h-6zM399,814h7V832.1h-7zM433,814h6V826.2h-6zM441,814h7V829.0h-7zM450,814h6V829.7h-6zM492,814h6V823.8h-6zM593,814h6V819.8h-6zM601,814h7V828.5h-7zM610,814h6V830.9h-6zM618,814h6V832.8h-6zM677,814h6V820.7h-6zM685,814h7V823.8h-7zM694,814h6V823.8h-6zM702,814h6V824.5h-6zM710,814h7V824.5h-7zM736,814h6V824.5h-6zM744,814h7V826.6h-7zM963,814h6V819.5h-6zM971,814h7V821.4h-7zM1030,814h7V816.9h-7zM1249,814h6V820.7h-6zM1257,814h7V824.5h-7zM1266,814h6V826.6h-6zM1274,814h7V827.6h-7zM1283,814h6V827.6h-6zM1291,814h6V829.7h-6zM1325,814h6V826.2h-6zM1333,814h6V829.7h-6zM1341,814h7V832.8h-7zM1350,814h6V838.5h-6zM1358,814h7V839.6h-7zM1367,814h6V840.4h-6zM1375,814h7V841.5h-7zM1384,814h6V846.3h-6zM1796,814h6V816.7h-6zM1804,814h7V819.1h-7zM1813,814h6V820.2h-6zM1821,814h6V820.9h-6zM1855,814h6V816.2h-6zM1863,814h6V816.7h-6z" fill="#FF5252"/>
<path d="M-3.0,744.0C-2.3,744.3 -1.7,744.4 1.2,745.7C4.1,747.0 8.9,748.9 14.2,751.6C19.5,754.4 27.6,758.7 33.1,762.2C38.6,765.8 42.5,769.7 47.3,772.9C52.0,776.1 56.9,778.7 61.6,781.2C66.3,783.7 72.2,786.5 75.8,787.8C79.3,789.1 79.8,787.8 82.9,789.0C86.1,790.2 90.4,793.0 94.7,794.9C99.0,796.8 104.2,798.9 108.9,800.6C113.6,802.3 118.8,803.8 123.1,804.9C127.4,806.0 131.3,806.8 134.9,807.2C138.5,807.6 141.6,807.6 144.4,807.2C147.2,806.8 149.1,806.5 151.5,804.9C153.9,803.3 156.2,799.8 158.6,797.8C161.0,795.8 162.9,794.1 165.7,793.0C168.5,791.9 171.2,791.2 175.2,791.1C179.1,791.0 183.9,792.2 189.4,792.3C194.9,792.4 203.2,791.2 208.3,791.8C213.4,792.4 215.8,794.7 220.2,795.9C224.5,797.1 230.1,796.6 234.4,798.9C238.7,801.2 242.3,806.0 246.2,809.6C250.1,813.2 254.1,816.7 258.0,820.2C261.9,823.8 266.3,827.9 269.9,830.9C273.5,833.9 276.6,836.3 279.4,838.0C282.2,839.7 284.1,840.7 286.5,841.1C288.9,841.5 291.2,840.8 293.6,840.4C296.0,840.0 297.9,838.9 300.7,838.5C303.4,838.1 307.4,838.9 310.1,838.0C312.9,837.1 314.4,835.5 317.2,833.3C320.0,831.1 323.5,827.6 326.7,825.0C329.9,822.4 333.0,819.7 336.2,817.9C339.4,816.1 342.9,815.5 345.6,814.3C348.4,813.1 350.3,812.6 352.7,810.8C355.1,809.0 357.0,805.1 359.8,803.7C362.6,802.3 366.5,803.1 369.3,802.5C372.1,801.9 373.8,800.0 376.4,800.1C379.0,800.2 382.3,801.2 384.7,803.2C387.1,805.2 388.4,808.6 390.6,812.0C392.8,815.4 395.7,820.6 397.7,823.8C399.7,827.0 400.5,830.0 402.5,831.4C404.5,832.8 406.9,832.2 409.6,832.1C412.4,832.0 415.9,830.8 419.0,830.9C422.1,831.0 425.3,831.6 428.5,832.8C431.7,834.0 434.4,836.0 438.0,838.0C441.6,840.0 446.2,843.2 449.8,845.1C453.4,847.0 456.1,848.9 459.3,849.4C462.5,849.9 465.2,848.6 468.8,848.2C472.4,847.8 476.7,846.6 480.6,847.0C484.5,847.4 488.8,849.8 492.4,850.6C495.9,851.4 498.7,851.8 501.9,851.7C505.1,851.6 508.2,850.7 511.4,849.8C514.5,848.9 518.0,848.3 520.8,846.3C523.5,844.3 525.5,840.1 527.9,838.0C530.3,835.9 532.2,834.6 535.0,833.7C537.8,832.8 541.3,832.8 544.5,832.8C547.7,832.8 550.9,833.3 554.0,834.0C557.1,834.7 559.9,836.1 563.4,836.8C566.9,837.5 571.1,838.2 575.0,838.3C578.9,838.4 583.1,836.8 586.6,837.3C590.1,837.8 592.9,838.5 596.0,841.6C599.1,844.7 602.3,852.2 605.5,855.8C608.7,859.3 612.2,860.9 615.0,862.9C617.8,864.9 619.3,866.5 622.1,867.6C624.9,868.7 628.8,869.0 631.6,869.5C634.4,870.0 636.3,871.1 638.7,870.7C641.1,870.3 643.0,868.3 645.8,867.1C648.5,865.9 651.3,864.1 655.2,863.6C659.1,863.1 665.5,863.4 669.4,864.0C673.3,864.6 675.3,865.5 678.9,867.1C682.5,868.7 686.8,871.8 690.7,873.5C694.7,875.2 699.1,876.0 702.6,877.1C706.1,878.2 708.5,879.7 712.0,880.1C715.5,880.5 720.7,879.2 723.9,879.4C727.1,879.6 728.2,880.0 731.0,881.3C733.8,882.6 737.7,885.7 740.5,887.2C743.3,888.8 745.2,889.7 747.6,890.6C750.0,891.5 752.0,892.2 754.7,892.5C757.5,892.8 761.0,893.3 764.1,892.5C767.2,891.7 770.8,889.1 773.6,887.7C776.4,886.3 778.3,885.7 780.7,884.2C783.1,882.8 785.0,880.6 787.8,879.0C790.6,877.4 794.1,876.3 797.3,874.7C800.4,873.1 803.6,870.9 806.7,869.3C809.9,867.6 813.4,866.1 816.2,864.8C819.0,863.5 820.9,862.0 823.3,861.7C825.7,861.5 827.6,863.7 830.4,863.3C833.2,862.9 836.7,861.5 839.9,859.3C843.1,857.0 846.6,852.2 849.4,849.8C852.2,847.3 853.4,846.0 856.5,844.6C859.6,843.2 864.0,842.8 868.3,841.6C872.6,840.4 878.5,838.9 882.5,837.5C886.5,836.1 888.9,835.6 892.0,833.3C895.1,831.0 898.6,826.2 901.4,823.8C904.1,821.3 906.1,819.8 908.5,818.6C910.9,817.4 912.8,816.8 915.6,816.7C918.4,816.6 921.5,817.6 925.1,817.9C928.7,818.2 933.8,818.2 937.0,818.6C940.2,819.0 941.4,819.2 944.1,820.2C946.9,821.2 950.0,822.7 953.5,824.3C957.0,825.9 961.9,828.0 965.4,829.7C968.9,831.4 971.2,833.8 974.8,834.5C978.3,835.2 982.4,834.2 986.7,833.7C991.1,833.2 996.2,832.1 1000.9,831.4C1005.6,830.7 1010.4,829.9 1015.1,829.7C1019.8,829.5 1025.0,830.2 1029.3,830.4C1033.6,830.6 1036.4,831.2 1041.1,830.9C1045.8,830.6 1052.2,829.3 1057.7,828.5C1063.2,827.7 1068.8,827.0 1074.3,826.2C1079.8,825.4 1086.1,825.1 1090.8,823.8C1095.5,822.5 1098.8,820.2 1102.7,818.6C1106.7,817.0 1110.6,815.5 1114.5,813.9C1118.4,812.3 1123.0,810.8 1126.3,809.1C1129.6,807.4 1131.8,804.8 1134.6,803.7C1137.4,802.6 1139.6,802.4 1142.9,802.5C1146.2,802.6 1150.0,803.5 1154.2,804.1C1158.5,804.7 1163.5,805.6 1168.4,806.0C1173.3,806.4 1179.8,807.3 1183.8,806.5C1187.8,805.7 1189.1,802.8 1192.1,801.3C1195.1,799.8 1197.6,798.4 1201.6,797.3C1205.5,796.2 1210.3,795.5 1215.8,794.9C1221.3,794.3 1230.0,793.3 1234.7,793.7C1239.4,794.1 1241.1,795.4 1244.2,797.3C1247.3,799.2 1250.0,802.3 1253.6,804.9C1257.1,807.5 1261.5,810.7 1265.5,813.1C1269.5,815.5 1273.8,817.3 1277.3,819.1C1280.8,820.9 1284.0,822.3 1286.8,823.8C1289.6,825.3 1291.1,827.0 1293.9,828.1C1296.7,829.2 1299.9,830.2 1303.4,830.2C1307.0,830.2 1312.1,828.3 1315.2,828.1C1318.3,827.9 1319.9,828.5 1322.3,829.0C1324.7,829.5 1327.0,830.1 1329.4,831.4C1331.8,832.7 1334.1,834.5 1336.5,836.8C1338.9,839.1 1340.8,841.5 1343.6,845.1C1346.4,848.7 1349.9,854.6 1353.1,858.1C1356.2,861.6 1359.3,863.8 1362.5,866.4C1365.7,869.0 1369.2,871.1 1372.0,873.5C1374.8,875.9 1376.7,877.6 1379.1,880.6C1381.5,883.6 1383.8,888.8 1386.2,891.3C1388.6,893.8 1390.5,894.4 1393.3,895.5C1396.1,896.6 1399.6,897.3 1402.8,897.7C1406.0,898.1 1409.1,898.0 1412.3,897.7C1415.5,897.4 1418.2,896.2 1421.7,896.0C1425.2,895.8 1429.6,896.6 1433.6,896.7C1437.5,896.8 1441.9,897.2 1445.4,896.7C1449.0,896.2 1451.8,895.0 1454.9,893.6C1458.1,892.2 1460.8,889.9 1464.3,888.4C1467.8,886.9 1472.2,886.1 1476.2,884.9C1480.2,883.7 1483.7,882.3 1488.0,881.1C1492.3,879.9 1497.9,879.1 1502.2,877.8C1506.5,876.5 1509.8,875.1 1514.1,873.5C1518.4,871.9 1524.0,869.3 1528.3,868.3C1532.6,867.3 1536.9,867.9 1540.1,867.6C1543.2,867.3 1544.8,867.5 1547.2,866.4C1549.6,865.3 1551.5,862.7 1554.3,861.0C1557.1,859.3 1560.6,857.3 1563.8,856.2C1567.0,855.1 1569.3,855.5 1573.2,854.6C1577.1,853.7 1582.7,852.2 1587.4,850.6C1592.1,849.0 1597.2,847.0 1601.6,845.1C1605.9,843.2 1609.9,840.9 1613.5,839.2C1617.1,837.6 1619.5,836.1 1623.0,835.2C1626.5,834.3 1630.9,834.0 1634.8,833.7C1638.7,833.5 1642.6,834.1 1646.6,833.7C1650.5,833.3 1654.2,832.5 1658.5,831.4C1662.8,830.3 1668.0,828.4 1672.7,826.9C1677.4,825.4 1682.2,824.0 1686.9,822.6C1691.6,821.2 1697.1,820.2 1701.1,818.6C1705.0,817.0 1707.9,815.0 1710.6,813.1C1713.3,811.2 1714.8,808.7 1717.1,807.2C1719.4,805.8 1721.4,804.9 1724.2,804.4C1727.0,803.9 1729.8,803.9 1733.7,804.1C1737.7,804.3 1743.2,804.7 1747.9,805.6C1752.6,806.5 1757.4,808.9 1762.1,809.6C1766.8,810.4 1771.6,810.1 1776.3,810.1C1781.0,810.1 1785.8,809.1 1790.5,809.6C1795.2,810.1 1800.4,811.7 1804.7,813.1C1809.0,814.5 1813.0,816.7 1816.5,817.9C1820.0,819.1 1823.2,819.7 1826.0,820.2C1828.8,820.7 1830.3,821.2 1833.1,821.0C1835.9,820.8 1839.4,819.8 1842.6,819.1C1845.8,818.4 1848.5,816.9 1852.0,816.7C1855.5,816.5 1860.0,817.7 1863.9,817.9C1867.9,818.1 1871.8,818.4 1875.7,817.9C1879.7,817.4 1883.6,816.0 1887.6,815.0C1891.5,814.0 1895.5,812.9 1899.4,812.0C1903.3,811.1 1907.2,810.5 1911.2,809.6C1915.2,808.7 1919.5,807.7 1923.1,806.8C1926.6,805.9 1929.3,804.4 1932.5,804.1C1935.7,803.8 1938.8,805.6 1942.0,804.9C1945.2,804.2 1947.5,801.4 1951.5,800.1C1955.5,798.8 1961.4,798.0 1965.7,797.0C1970.0,796.0 1974.0,795.0 1977.5,794.2C1981.0,793.5 1984.2,792.7 1987.0,792.5C1989.8,792.3 1991.7,792.5 1994.1,793.0C1996.5,793.5 1998.7,794.7 2001.2,795.4C2003.7,796.1 2008.0,797.0 2009.3,797.3" stroke="#2196F3" stroke-width="4" fill="none" stroke-linecap="round" stroke-linejoin="round"/>
<path d="M-3.0,749.7C-2.3,749.7 -2.5,749.6 1.2,749.9C4.8,750.2 12.8,750.3 18.9,751.6C25.0,752.9 31.6,755.1 37.9,757.5C44.2,759.9 50.5,762.8 56.8,765.8C63.1,768.8 69.5,772.3 75.8,775.3C82.1,778.3 88.4,781.0 94.7,783.6C101.0,786.2 107.3,788.5 113.6,790.7C119.9,792.9 127.1,795.1 132.6,796.6C138.1,798.1 142.1,799.2 146.8,799.7C151.5,800.2 156.3,800.1 161.0,799.7C165.7,799.3 169.7,798.0 175.2,797.3C180.7,796.6 187.8,795.9 194.1,795.4C200.4,794.9 206.8,794.1 213.1,794.2C219.4,794.3 226.5,794.9 232.0,795.9C237.5,796.9 241.5,798.4 246.2,800.1C250.9,801.8 255.7,803.8 260.4,806.0C265.1,808.2 269.9,810.3 274.6,813.1C279.3,815.9 284.1,820.1 288.8,822.6C293.5,825.1 298.3,826.7 303.0,828.1C307.7,829.5 312.5,830.8 317.2,830.9C321.9,831.0 326.7,829.6 331.4,828.5C336.1,827.4 340.9,825.9 345.6,824.3C350.3,822.6 355.1,820.5 359.8,818.6C364.6,816.7 369.8,814.4 374.1,813.1C378.5,811.8 382.0,810.8 385.9,810.8C389.8,810.8 393.4,811.7 397.7,813.1C402.0,814.5 407.2,817.4 411.9,819.1C416.6,820.8 421.4,821.9 426.1,823.3C430.8,824.7 435.6,825.7 440.3,827.4C445.0,829.1 449.8,831.6 454.5,833.3C459.2,835.0 464.1,836.2 468.8,837.5C473.6,838.8 478.3,840.0 483.0,841.1C487.7,842.2 492.5,843.5 497.2,844.4C501.9,845.3 506.7,846.3 511.4,846.3C516.1,846.3 520.9,845.4 525.6,844.6C530.3,843.8 535.1,842.4 539.8,841.6C544.5,840.8 549.3,840.2 554.0,839.7C558.7,839.2 563.2,838.9 568.2,838.7C573.2,838.5 579.2,838.4 584.2,838.7C589.2,839.0 593.7,839.1 598.4,840.4C603.1,841.7 607.9,844.0 612.6,846.3C617.3,848.5 622.1,851.9 626.8,853.9C631.5,855.9 636.3,857.1 641.0,858.1C645.7,859.1 650.5,859.5 655.2,860.0C659.9,860.5 664.7,860.6 669.4,861.2C674.1,861.8 678.9,862.5 683.6,863.6C688.3,864.7 693.1,866.3 697.8,867.6C702.5,868.9 707.3,870.2 712.0,871.2C716.7,872.2 721.5,872.4 726.2,873.5C731.0,874.6 735.8,876.3 740.5,877.8C745.2,879.3 750.0,881.3 754.7,882.5C759.4,883.7 765.0,884.5 768.9,884.9C772.8,885.3 774.4,885.2 778.3,884.9C782.2,884.6 787.8,884.0 792.5,883.0C797.2,882.0 802.0,880.2 806.7,878.7C811.4,877.2 816.2,875.5 820.9,874.2C825.6,872.9 831.1,871.8 835.1,870.7C839.1,869.6 840.7,869.3 844.6,867.6C848.5,865.9 854.1,862.7 858.8,860.5C863.5,858.3 868.3,856.5 873.0,854.6C877.7,852.8 882.5,851.4 887.2,849.4C891.9,847.4 896.7,845.1 901.4,842.7C906.1,840.3 910.9,837.4 915.6,835.2C920.3,833.0 925.0,831.2 929.8,829.7C934.5,828.2 939.4,826.9 944.1,826.2C948.9,825.5 953.6,825.3 958.3,825.5C963.0,825.7 967.8,826.7 972.5,827.4C977.2,828.1 982.0,829.2 986.7,829.7C991.4,830.2 995.4,830.3 1000.9,830.4C1006.4,830.5 1013.5,830.4 1019.8,830.4C1026.1,830.4 1032.5,830.5 1038.8,830.4C1045.1,830.3 1051.4,830.3 1057.7,830.0C1064.0,829.7 1071.1,828.9 1076.6,828.5C1082.1,828.1 1086.1,828.0 1090.8,827.4C1095.5,826.8 1100.3,826.0 1105.0,825.0C1109.7,824.0 1114.5,822.8 1119.2,821.4C1123.9,820.0 1129.1,818.1 1133.4,816.7C1137.7,815.3 1141.5,814.0 1145.0,813.0C1148.5,812.0 1149.9,811.4 1154.2,810.8C1158.5,810.1 1165.3,809.7 1170.8,809.1C1176.3,808.5 1181.8,808.1 1187.3,807.2C1192.8,806.3 1198.4,804.8 1203.9,803.7C1209.4,802.6 1215.4,801.4 1220.5,800.6C1225.6,799.8 1230.8,799.2 1234.7,798.9C1238.7,798.5 1240.2,798.2 1244.2,798.5C1248.2,798.8 1253.7,799.7 1258.4,800.8C1263.1,801.9 1267.9,803.6 1272.6,805.3C1277.3,807.0 1282.1,809.0 1286.8,810.8C1291.5,812.6 1296.3,814.6 1301.0,816.2C1305.7,817.8 1310.5,819.0 1315.2,820.2C1319.9,821.4 1325.1,821.9 1329.4,823.3C1333.7,824.7 1337.2,826.2 1341.2,828.5C1345.2,830.8 1348.8,833.7 1353.1,836.8C1357.4,839.9 1362.6,843.5 1367.3,847.0C1372.0,850.5 1377.2,854.7 1381.5,858.1C1385.8,861.5 1389.3,864.8 1393.3,867.6C1397.2,870.5 1400.8,872.9 1405.2,875.2C1409.6,877.5 1414.7,879.4 1419.4,881.3C1424.1,883.2 1429.3,885.1 1433.6,886.5C1437.9,887.9 1441.5,888.8 1445.4,889.4C1449.3,890.0 1452.9,890.1 1457.2,890.1C1461.5,890.1 1466.7,889.9 1471.4,889.4C1476.1,888.9 1480.9,888.0 1485.6,887.2C1490.3,886.5 1495.0,885.8 1499.8,884.9C1504.5,884.0 1509.3,882.9 1514.1,881.8C1518.8,880.7 1523.6,879.4 1528.3,878.3C1533.0,877.2 1537.8,876.4 1542.5,875.2C1547.2,874.0 1552.0,872.6 1556.7,871.2C1561.4,869.8 1566.2,868.4 1570.9,866.9C1575.6,865.4 1580.4,863.9 1585.1,862.2C1589.8,860.5 1594.6,858.6 1599.3,856.9C1604.0,855.1 1608.8,853.4 1613.5,851.7C1618.2,850.0 1623.0,848.3 1627.7,846.8C1632.4,845.3 1637.2,843.9 1641.9,842.7C1646.6,841.5 1651.4,840.8 1656.1,839.7C1660.8,838.6 1665.6,837.2 1670.3,836.1C1675.0,835.0 1679.8,833.9 1684.5,832.8C1689.2,831.7 1694.4,830.8 1698.7,829.7C1703.0,828.6 1706.8,827.7 1710.6,826.2C1714.4,824.8 1717.9,822.6 1721.8,821.0C1725.7,819.4 1729.3,817.9 1733.7,816.7C1738.1,815.5 1743.2,814.4 1747.9,813.6C1752.6,812.8 1757.4,812.4 1762.1,812.0C1766.8,811.6 1771.6,811.5 1776.3,811.3C1781.0,811.1 1785.8,810.7 1790.5,810.8C1795.2,810.9 1800.0,811.4 1804.7,812.0C1809.4,812.6 1814.2,813.6 1818.9,814.3C1823.6,815.0 1828.4,815.7 1833.1,816.2C1837.8,816.7 1842.6,817.0 1847.3,817.2C1852.0,817.4 1856.8,817.4 1861.5,817.4C1866.2,817.4 1871.0,817.5 1875.7,817.4C1880.4,817.3 1885.2,817.1 1889.9,816.7C1894.6,816.3 1899.4,815.6 1904.1,815.0C1908.8,814.4 1913.6,813.8 1918.3,813.1C1923.0,812.4 1927.8,811.6 1932.5,810.8C1937.2,810.0 1942.0,809.3 1946.7,808.4C1951.4,807.5 1956.2,806.3 1960.9,805.3C1965.7,804.3 1970.5,803.4 1975.2,802.5C1980.0,801.6 1985.1,800.8 1989.4,800.1C1993.7,799.4 1997.9,798.8 2001.2,798.5C2004.5,798.2 2008.0,798.2 2009.3,798.2" stroke="#F23645" stroke-width="4" fill="none" stroke-linecap="round" stroke-linejoin="round"/>
</g>
<g clip-path="url(#cr)">
<line x1="0" y1="935" x2="2277" y2="935" stroke="#6F727D" stroke-width="2" stroke-dasharray="9.7 12.3" stroke-dashoffset="-1.2"/>
<line x1="0" y1="993" x2="2277" y2="993" stroke="#6F727D" stroke-width="2" stroke-dasharray="9.7 12.3" stroke-dashoffset="-1.2"/>
<line x1="0" y1="1050" x2="2277" y2="1050" stroke="#6F727D" stroke-width="2" stroke-dasharray="9.7 12.3" stroke-dashoffset="-1.2"/>
<path d="M-3.0,940.0L1.2,955.8L7.1,983.0L14.9,970.5L24.9,977.1L33.1,976.6L41.4,988.2L49.0,987.2L56.8,986.1L67.5,992.5L75.3,991.8L82.9,981.1L91.1,994.9L99.4,993.7L108.9,997.2L117.2,993.7L125.5,994.1L133.8,993.2L141.6,988.5L151.5,975.4L159.8,954.6L165.7,958.2L175.2,967.6L183.5,978.3L192.9,981.1L201.2,971.2L208.3,971.9L217.3,988.2L226.1,987.0L234.4,991.8L243.1,1020.4L250.9,1023.7L259.2,1025.2L268.7,1048.8L277.0,1026.1L285.3,1027.3L292.8,1011.0L301.1,1001.3L310.6,1008.6L318.9,985.4L327.2,972.4L335.0,969.5L343.3,973.1L352.7,970.0L361.0,954.6L368.8,983.7L377.1,976.4L384.7,992.5L394.9,1033.9L403.2,1038.7L411.2,1002.4L419.0,996.0L427.3,1004.8L435.6,1012.6L444.4,1018.5L452.7,1022.6L460.9,1017.3L469.9,1007.9L478.7,1008.4L487.0,1016.6L494.8,1021.6L503.1,1015.7L511.4,1007.2L520.8,1005.0L529.1,983.5L536.9,987.8L545.2,1002.0L554.0,1008.6L563.0,1017.8L571.7,1011.9L579.0,1009.1L587.0,1005.0L596.0,1028.5L605.0,1051.7L613.1,1035.1L620.9,1041.7L629.2,1028.0L638.7,1030.4L646.9,1010.2L654.8,1011.9L663.0,1023.3L671.3,1023.7L680.1,1035.6L689.1,1044.6L697.1,1037.0L704.9,1041.7L713.2,1046.2L722.7,1033.4L731.0,1040.5L739.3,1052.9L747.6,1056.4L755.4,1055.7L764.6,1051.0L772.9,1028.5L780.7,1027.5L789.0,1017.8L798.5,1019.0L806.7,1016.6L815.0,1020.9L823.3,1020.9L830.9,1041.0L839.9,1013.8L848.6,987.0L856.9,993.7L865.2,1005.0L874.2,1002.7L883.0,1000.3L890.8,992.5L899.1,969.5L906.9,969.1L915.2,981.8L924.6,1000.3L932.7,996.5L941.0,1003.6L948.8,1013.8L957.1,1014.3L967.0,1028.0L974.8,1028.5L982.6,1005.0L990.9,1004.8L999.7,1001.3L1008.7,1000.1L1016.7,1006.7L1025.0,1009.8L1033.3,1015.5L1042.3,1011.0L1050.6,1006.7L1058.4,1006.0L1067.2,1008.4L1075.0,1000.1L1084.9,1000.3L1092.7,993.0L1101.0,967.2L1109.1,966.9L1117.3,962.9L1125.9,950.6L1135.1,939.2L1142.9,972.4L1151.1,985.4L1159.4,989.2L1168.4,989.4L1176.7,981.8L1185.0,988.2L1192.8,949.9L1201.1,946.3L1209.8,954.1L1218.8,960.5L1227.1,958.2L1235.2,965.3L1243.5,988.9L1252.9,1027.3L1260.7,1019.0L1269.0,1022.8L1276.8,1021.8L1284.9,1022.3L1295.1,1041.0L1302.9,1017.8L1310.9,999.1L1319.2,1001.5L1328.7,1026.8L1337.0,1039.8L1344.8,1059.3L1353.1,1069.9L1360.9,1056.4L1369.6,1062.3L1379.1,1068.2L1386.9,1082.5L1395.2,1048.6L1403.3,1046.2L1412.3,1045.8L1421.3,1043.4L1429.3,1049.3L1437.6,1054.8L1445.4,1054.0L1454.2,1037.5L1463.2,1031.1L1471.0,1041.5L1479.3,1035.6L1487.3,1036.3L1496.3,1039.8L1505.1,1041.0L1513.4,1036.8L1521.2,1035.6L1529.4,1037.9L1539.4,1048.8L1547.2,1050.0L1555.0,1006.7L1563.1,1011.0L1573.2,1024.0L1581.1,1016.9L1589.1,1020.9L1596.9,1003.9L1605.2,1010.7L1615.1,986.6L1623.0,994.9L1631.2,1008.4L1639.1,1009.5L1647.1,1014.5L1656.8,1004.3L1665.6,996.0L1673.9,993.2L1682.1,988.9L1689.2,985.9L1699.2,984.7L1707.5,968.8L1715.3,944.7L1723.5,953.4L1731.3,976.4L1741.3,988.5L1749.1,987.0L1756.9,997.9L1764.9,1003.1L1773.2,985.4L1782.7,984.7L1791.0,982.3L1799.3,1003.6L1807.1,1014.5L1815.3,1014.0L1824.8,1015.7L1832.6,1006.0L1840.9,988.5L1849.0,981.8L1859.1,999.1L1867.0,999.8L1875.0,997.2L1882.8,987.0L1891.1,987.8L1901.0,961.2L1909.3,973.8L1917.1,973.8L1924.7,963.6L1933.0,956.3L1943.2,980.7L1951.0,952.2L1959.0,962.7L1967.3,957.0L1975.1,960.1L1984.6,949.4L1992.9,966.4L2001.2,984.4L2009.3,978.8" stroke="#7E57C2" stroke-width="2" fill="none" stroke-linejoin="round" stroke-linecap="round"/>
</g>
<rect x="0" y="722" width="2450" height="2" fill="#E0E3EB"/>
<rect x="0" y="915" width="2450" height="2" fill="#E0E3EB"/>
<g font-family="Liberation Sans, sans-serif" stroke-width="0.3">
<text x="2293.9" y="26.3" fill="#131722" stroke="#131722" font-size="24" textLength="133.55" lengthAdjust="spacing" >3,750.0000</text>
<text x="2293.9" y="100.5" fill="#131722" stroke="#131722" font-size="24" textLength="133.55" lengthAdjust="spacing" >3,500.0000</text>
<text x="2293.9" y="174.6" fill="#131722" stroke="#131722" font-size="24" textLength="133.55" lengthAdjust="spacing" >3,250.0000</text>
<text x="2293.9" y="248.8" fill="#131722" stroke="#131722" font-size="24" textLength="133.55" lengthAdjust="spacing" >3,000.0000</text>
<text x="2293.6" y="322.9" fill="#131722" stroke="#131722" font-size="24" textLength="133.85" lengthAdjust="spacing" >2,750.0000</text>
<text x="2293.6" y="397.1" fill="#131722" stroke="#131722" font-size="24" textLength="133.85" lengthAdjust="spacing" >2,500.0000</text>
<text x="2293.6" y="545.4" fill="#131722" stroke="#131722" font-size="24" textLength="133.85" lengthAdjust="spacing" >2,000.0000</text>
<text x="2293.0" y="619.5" fill="#131722" stroke="#131722" font-size="24" textLength="134.45" lengthAdjust="spacing" >1,750.0000</text>
<text x="2293.0" y="693.6" fill="#131722" stroke="#131722" font-size="24" textLength="134.45" lengthAdjust="spacing" >1,500.0000</text>
<text x="2293.6" y="764" fill="#131722" stroke="#131722" font-size="24" textLength="115.55" lengthAdjust="spacing" >200.0000</text>
<text x="2293.8" y="883.3" fill="#131722" stroke="#131722" font-size="24" textLength="123.65" lengthAdjust="spacing" >-200.0000</text>
<g clip-path="url(#ca)"><text x="2293.6" y="928.6" fill="#131722" stroke="#131722" font-size="24" textLength="66.25" lengthAdjust="spacing" >75.00</text><text x="2293.9" y="1000.7" fill="#131722" stroke="#131722" font-size="24" textLength="65.95" lengthAdjust="spacing" >50.00</text></g>
<text x="2293.6" y="1073.0" fill="#131722" stroke="#131722" font-size="24" textLength="66.25" lengthAdjust="spacing" >25.00</text>
<path d="M2277,334.9H2436.2a3,3 0 0 1 3,3V366.0a3,3 0 0 1 -3,3H2277z" fill="#9C27B0"/><text x="2293.6" y="358.5" fill="#fff" stroke="#fff" font-size="24" textLength="134.15" lengthAdjust="spacing" >2,628.5377</text>
<path d="M2277,399.8H2436.2a3,3 0 0 1 3,3V430.90000000000003a3,3 0 0 1 -3,3H2277z" fill="#2962FF"/><text x="2293.6" y="423.4" fill="#fff" stroke="#fff" font-size="24" textLength="134.15" lengthAdjust="spacing" >2,353.4412</text>
<path d="M2277,433.8H2436.2a3,3 0 0 1 3,3V464.90000000000003a3,3 0 0 1 -3,3H2277z" fill="#089981"/><text x="2293.6" y="457.4" fill="#fff" stroke="#fff" font-size="24" textLength="133.85" lengthAdjust="spacing" >2,296.6300</text>
<path d="M2277,467.9H2436.2a3,3 0 0 1 3,3V499.0a3,3 0 0 1 -3,3H2277z" fill="#F23645"/><text x="2293.6" y="491.5" fill="#fff" stroke="#fff" font-size="24" textLength="134.15" lengthAdjust="spacing" >2,210.5847</text>
<path d="M2277,729.2H2398a3,3 0 0 1 3,3V760.3000000000001a3,3 0 0 1 -3,3H2277z" fill="#2196F3"/><text x="2293.6" y="752.8" fill="#fff" stroke="#fff" font-size="24" textLength="96.75" lengthAdjust="spacing" >60.6423</text>
<path d="M2277,763.0H2398a3,3 0 0 1 3,3V794.1a3,3 0 0 1 -3,3H2277z" fill="#F23645"/><text x="2293.9" y="786.6" fill="#fff" stroke="#fff" font-size="24" textLength="96.45" lengthAdjust="spacing" >56.3773</text>
<path d="M2277,796.8H2383.5a3,3 0 0 1 3,3V827.9a3,3 0 0 1 -3,3H2277z" fill="#ACE5DC"/><text x="2294.3" y="821.6" fill="#131722" stroke="#131722" font-size="24" textLength="81.55" lengthAdjust="spacing" >4.2649</text>
<path d="M2277,961.8H2367.7a3,3 0 0 1 3,3V992.9a3,3 0 0 1 -3,3H2277z" fill="#7E57C2"/><text x="2293.9" y="986.2" fill="#fff" stroke="#fff" font-size="24" textLength="66.05" lengthAdjust="spacing" >54.78</text>
<text x="43.9" y="1137.3" fill="#131722" stroke="#131722" font-size="24" textLength="44.15" lengthAdjust="spacing" >Sep</text>
<text x="297.5" y="1137.3" fill="#131722" stroke="#131722" font-size="24" textLength="41.27" lengthAdjust="spacing" >Oct</text>
<text x="555.8" y="1137.3" fill="#131722" stroke="#131722" font-size="24" textLength="45.1" lengthAdjust="spacing" >Nov</text>
<text x="808.2" y="1137.3" fill="#131722" stroke="#131722" font-size="24" textLength="45.9" lengthAdjust="spacing" >Dec</text>
<text x="1060.2" y="1137.3" fill="#131722" stroke="#131722" font-size="24" textLength="64.85" lengthAdjust="spacing" font-weight="bold" >2026</text>
<text x="1331.1" y="1137.3" fill="#131722" stroke="#131722" font-size="24" textLength="43.85" lengthAdjust="spacing" >Feb</text>
<text x="1565.9" y="1137.3" fill="#131722" stroke="#131722" font-size="24" textLength="44.59" lengthAdjust="spacing" >Mar</text>
<text x="1830.6" y="1137.3" fill="#131722" stroke="#131722" font-size="24" textLength="38.99" lengthAdjust="spacing" >Apr</text>
<text x="2077.6" y="1137.3" fill="#131722" stroke="#131722" font-size="24" textLength="47.2" lengthAdjust="spacing" >May</text>
<text x="17.0" y="40.7" fill="#131722" stroke="#131722" font-size="24" textLength="276.93" lengthAdjust="spacing" >ETH/USDT (Binance), 1D</text>
<text x="307.3" y="40.7" fill="#131722" stroke="#131722" font-size="24" >O</text>
<text x="326.6" y="40.7" fill="#089981" stroke="#089981" font-size="24" textLength="130.45" lengthAdjust="spacing" >2,263.2800</text>
<text x="470.8" y="40.7" fill="#131722" stroke="#131722" font-size="24" >H</text>
<text x="489.8" y="40.7" fill="#089981" stroke="#089981" font-size="24" textLength="130.05" lengthAdjust="spacing" >2,332.8800</text>
<text x="634.4" y="40.7" fill="#131722" stroke="#131722" font-size="24" >L</text>
<text x="648.4" y="40.7" fill="#089981" stroke="#089981" font-size="24" textLength="128.15" lengthAdjust="spacing" >2,259.6700</text>
<text x="790.4" y="40.7" fill="#131722" stroke="#131722" font-size="24" >C</text>
<text x="808.8" y="40.7" fill="#089981" stroke="#089981" font-size="24" textLength="130.65" lengthAdjust="spacing" >2,296.6300</text>
<text x="954.0" y="40.7" fill="#089981" stroke="#089981" font-size="24" textLength="203.29" lengthAdjust="spacing" >33.3600 (+1.47%)</text>
<text x="17.0" y="74.7" fill="#131722" stroke="#131722" font-size="24" textLength="207.59" lengthAdjust="spacing" >EMA (50, close, 0)</text><text x="238.7" y="74.7" fill="#F23645" stroke="#F23645" font-size="24" textLength="126.35" lengthAdjust="spacing" >2,210.5847</text>
<text x="17.0" y="108.6" fill="#131722" stroke="#131722" font-size="24" textLength="218.79" lengthAdjust="spacing" >EMA (100, close, 0)</text><text x="250.6" y="108.6" fill="#2962FF" stroke="#2962FF" font-size="24" textLength="127.35" lengthAdjust="spacing" >2,353.4412</text>
<text x="17.0" y="142.6" fill="#131722" stroke="#131722" font-size="24" textLength="221.89" lengthAdjust="spacing" >EMA (200, close, 0)</text><text x="253.8" y="142.6" fill="#9C27B0" stroke="#9C27B0" font-size="24" textLength="128.15" lengthAdjust="spacing" >2,628.5377</text>
<text x="17.0" y="764" fill="#131722" stroke="#131722" font-size="24" textLength="266.59" lengthAdjust="spacing" >MACD (12, 26, close, 9)</text><text x="298.3" y="764" fill="#ACE5DC" stroke="#ACE5DC" font-size="24" textLength="80.85" lengthAdjust="spacing" >4.2649</text><text x="393.0" y="764" fill="#2196F3" stroke="#2196F3" font-size="24" textLength="95.25" lengthAdjust="spacing" >60.6423</text><text x="502.7" y="764" fill="#F23645" stroke="#F23645" font-size="24" textLength="92.75" lengthAdjust="spacing" >56.3773</text>
<text x="16.8" y="956.8" fill="#131722" stroke="#131722" font-size="24" textLength="88.09" lengthAdjust="spacing" >RSI (14)</text><text x="119.8" y="956.8" fill="#7E57C2" stroke="#7E57C2" font-size="24" textLength="64.15" lengthAdjust="spacing" >54.78</text>
</g>
<path d="M0,0H2450V1156H0z M2,2V1154H2448V2z" fill="#F0F2F7" fill-rule="evenodd"/>
<rect x="1" y="808" width="1" height="7.8" fill="#26A69A" fill-opacity="0.75"/>
</svg></body></html>
